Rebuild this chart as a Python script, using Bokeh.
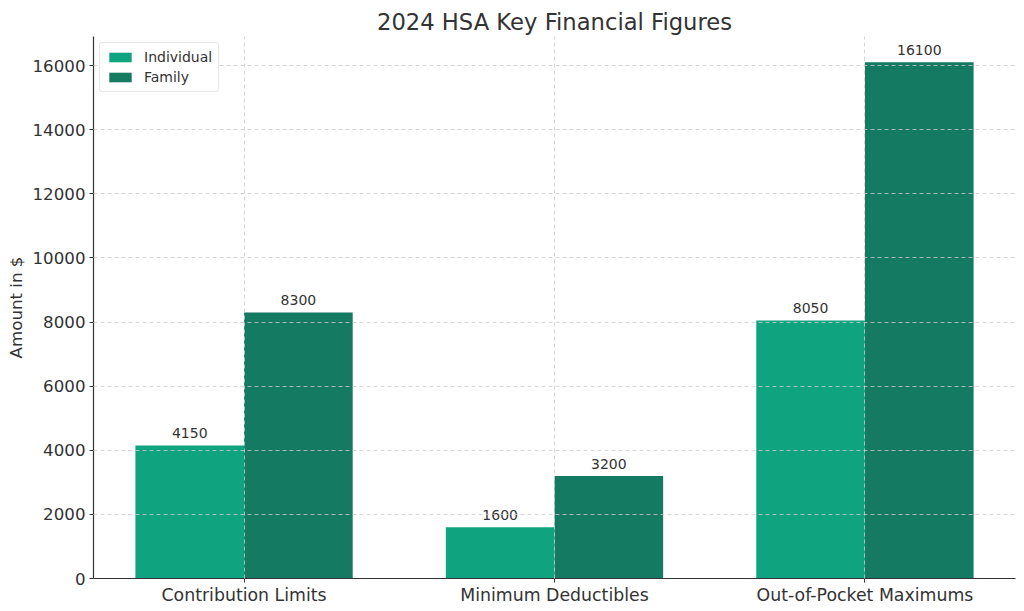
from bokeh.plotting import figure
from bokeh.models import ColumnDataSource, Range1d, FixedTicker, Legend, LegendItem
from bokeh.embed import file_html
from bokeh.resources import INLINE
from bokeh.core.properties import value

categories = ["Contribution Limits", "Minimum Deductibles", "Out-of-Pocket Maximums"]
individual = [4150, 1600, 8050]
family = [8300, 3200, 16100]
y_ticks = [0, 2000, 4000, 6000, 8000, 10000, 12000, 14000, 16000]

bar_w = 0.35
xs = list(range(len(categories)))
ind_x = [x - bar_w / 2 for x in xs]
fam_x = [x + bar_w / 2 for x in xs]

FONT = "DejaVu Sans"
TXT = "#333333"

p = figure(width=1024, height=611, output_backend="svg", toolbar_location=None,
           x_range=Range1d(-0.485, 2.485), y_range=Range1d(0, 16905),
           min_border_left=93, min_border_right=9, min_border_top=36, min_border_bottom=33)

p.title.text = "2024 HSA Key Financial Figures"
p.title.align = "center"
p.title.text_font = FONT
p.title.text_font_size = "17pt"
p.title.text_font_style = "normal"
p.title.text_color = TXT
p.title.standoff = 4
p.title.offset = 0

src_i = ColumnDataSource(dict(x=ind_x, top=individual, lab=[str(v) for v in individual]))
src_f = ColumnDataSource(dict(x=fam_x, top=family, lab=[str(v) for v in family]))

ri = p.vbar(x="x", top="top", width=bar_w, source=src_i, fill_color="#10A37F", line_color=None)
rf = p.vbar(x="x", top="top", width=bar_w, source=src_f, fill_color="#157A62", line_color=None)

for src in (src_i, src_f):
    p.text(x="x", y="top", text="lab", source=src, text_align="center", text_baseline="bottom",
           y_offset=-7, text_font=value(FONT), text_font_size="10.5pt", text_color=TXT)

p.xaxis.ticker = FixedTicker(ticks=xs)
p.xaxis.major_label_overrides = {i: c for i, c in enumerate(categories)}
p.yaxis.ticker = FixedTicker(ticks=y_ticks)
p.yaxis.axis_label = "Amount in $"
for ax in (p.xaxis, p.yaxis):
    ax.major_label_text_font = FONT
    ax.major_label_text_color = TXT
    ax.axis_line_color = "#333333"
    ax.axis_line_width = 1.2
    ax.major_tick_line_color = "#333333"
    ax.major_tick_out = 4
    ax.major_tick_in = 0
    ax.minor_tick_line_color = None
p.xaxis.major_label_text_font_size = "13pt"
p.yaxis.major_label_text_font_size = "12.5pt"
p.xaxis.major_label_standoff = 2
p.yaxis.major_label_standoff = 4
p.yaxis.axis_label_text_font = FONT
p.yaxis.axis_label_text_font_size = "12.5pt"
p.yaxis.axis_label_text_font_style = "normal"
p.yaxis.axis_label_text_color = TXT
p.yaxis.axis_label_standoff = 4

for g in (p.xgrid, p.ygrid):
    g.grid_line_color = "#cccccc"
    g.grid_line_dash = "4 3"
    g.grid_line_width = 0.8
    g.level = "overlay"
p.xgrid.ticker = FixedTicker(ticks=xs)

p.outline_line_color = None

legend = Legend(items=[LegendItem(label="Individual", renderers=[ri]),
                       LegendItem(label="Family", renderers=[rf])],
                location="top_left")
legend.label_text_font = FONT
legend.label_text_font_size = "10.5pt"
legend.label_text_color = TXT
legend.border_line_color = "#d0d0d0"
legend.border_radius = 3
legend.glyph_width = 28
legend.glyph_height = 12
legend.spacing = 4
legend.padding = 6
legend.margin = 6
legend.label_standoff = 10
p.add_layout(legend)

open("out.html", "w").write(file_html(p, INLINE))
